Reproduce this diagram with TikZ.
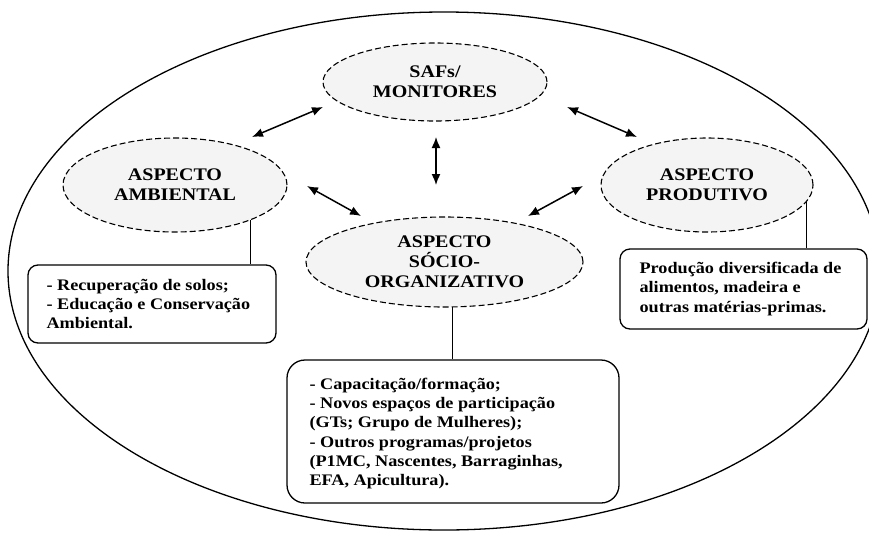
\documentclass[tikz,border=0pt]{standalone}
\usepackage{fontspec}
\setmainfont{Liberation Serif}[FakeStretch=1.13]
\usetikzlibrary{arrows.meta,shapes.geometric}
\definecolor{ellfill}{HTML}{F4F4F4}
\begin{document}
\begin{tikzpicture}[x=1pt,y=-1pt,
  asp/.style={ellipse, draw, dash pattern=on 6pt off 3pt, line width=1.1pt, fill=ellfill,
    inner sep=0pt, align=center, font=\bfseries\fontsize{17.7}{20}\selectfont},
  box/.style={draw, rounded corners=10pt, line width=1.3pt, inner sep=0pt},
  boxtext/.style={anchor=west, align=left, inner sep=0pt, font=\bfseries\fontsize{16.1}{19.3}\selectfont},
  link/.style={line width=1.1pt},
  dbl/.style={{Latex[length=11pt,width=9pt]}-{Latex[length=11pt,width=9pt]}, line width=1.5pt}]
\useasboundingbox (0,0) rectangle (869,533);
\clip (0,0) rectangle (869,533);
\draw[line width=1.3pt] (444,271) ellipse [x radius=436, y radius=259];

\node[asp, minimum width=224, minimum height=78] (saf) at (435,82) {SAFs/\\MONITORES};
\node[asp, minimum width=224, minimum height=94] (amb) at (175,185) {ASPECTO\\AMBIENTAL};
\node[asp, minimum width=212, minimum height=94] (prod) at (707,185) {ASPECTO\\PRODUTIVO};
\node[asp, minimum width=277, minimum height=90] (soc) at (444.5,262) {ASPECTO\\SÓCIO-\\ORGANIZATIVO};

\node[box, minimum width=248, minimum height=78] (bamb) at (152,304) {};
\node[box, minimum width=247, minimum height=80] (bprod) at (743.5,289) {};
\node[box, rounded corners=18pt, minimum width=332, minimum height=143] (bsoc) at (453,431.5) {};

\node[boxtext] (tamb) at ([xshift=19pt]bamb.west) {- Recuperação de solos;\\- Educação e Conservação\\Ambiental.};
\node[boxtext] (tprod) at ([xshift=20pt]bprod.west) {Produção diversificada de\\alimentos, madeira e\\outras matérias-primas.};
\node[boxtext] (tsoc) at ([xshift=23pt,yshift=-2pt]bsoc.west) {- Capacitação/formação;\\- Novos espaços de participação\\(GTs; Grupo de Mulheres);\\- Outros programas/projetos\\(P1MC, Nascentes, Barraginhas,\\EFA, Apicultura).};

\draw[link] (amb.-25) -- (amb.-25 |- bamb.north);
\draw[link] (prod.-10) -- (prod.-10 |- bprod.north);
\draw[link] (soc.-80) -- (soc.-80 |- bsoc.north);

\coordinate (a1s) at (323,107); \coordinate (a1e) at (252,137);
\coordinate (a2s) at (567,107); \coordinate (a2e) at (637,137);
\coordinate (a3s) at (436,137); \coordinate (a3e) at (436,185);
\coordinate (a4s) at (307,186); \coordinate (a4e) at (361,216);
\coordinate (a5s) at (583,186); \coordinate (a5e) at (528,216);
\draw[dbl] (a1s) -- (a1e);
\draw[dbl] (a2s) -- (a2e);
\draw[dbl] (a3s) -- (a3e);
\draw[dbl] (a4s) -- (a4e);
\draw[dbl] (a5s) -- (a5e);
\end{tikzpicture}
\end{document}
